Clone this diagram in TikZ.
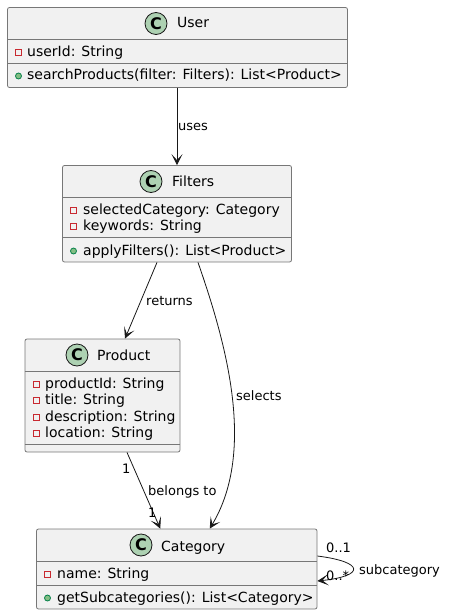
\documentclass[tikz,border=0pt]{standalone}
\usepackage{fontspec}
\setmainfont{DejaVu Sans}
\usetikzlibrary{arrows.meta,calc}
\definecolor{Ink}{HTML}{181818}
\definecolor{Pale}{HTML}{F1F1F1}
\definecolor{Rule}{HTML}{777777}
\definecolor{Spot}{HTML}{ADD1B2}
\definecolor{Priv}{HTML}{C82930}
\definecolor{PrivFill}{HTML}{F1F1F1}
\definecolor{Pub}{HTML}{038048}
\definecolor{PubFill}{HTML}{84BE84}
\tikzset{box/.style={draw=Rule,fill=Pale,rounded corners=2pt,line width=.8pt,inner sep=0pt},sep/.style={draw=Rule,line width=.8pt},flow/.style={-{Stealth[length=11pt,width=11pt,inset=6pt]},line width=.8pt,draw=Ink},lab/.style={font=\fontsize{13}{13}\selectfont,text=black,anchor=base west,inner sep=0pt},txt/.style={font=\fontsize{14}{14}\selectfont,text=black,anchor=base west,inner sep=0pt},spot/.style={circle,draw=Ink,fill=Spot,line width=.8pt,minimum size=22pt,inner sep=0pt,font=\fontsize{16}{16}\selectfont\bfseries,text=black},priv/.style={rectangle,draw=Priv,fill=PrivFill,line width=.8pt,minimum size=6pt,inner sep=0pt},pub/.style={circle,draw=Pub,fill=PubFill,line width=.8pt,minimum size=6pt,inner sep=0pt}}
\begin{document}
\begin{tikzpicture}[x=1pt,y=-1pt]
\useasboundingbox (0,0) rectangle (451,615);
% classes
\node[box,minimum width=340pt,minimum height=80pt] (user) at (177.5,47.5) {};
\node[box,minimum width=229pt,minimum height=96.5pt] (filters) at (177,213.75) {};
\node[box,minimum width=155pt,minimum height=113pt] (product) at (102.5,395.5) {};
\node[box,minimum width=280.5pt,minimum height=80pt] (category) at (176.75,569) {};
% compartments
\draw[sep] (user.west |- 0,39.5)--(user.east |- 0,39.5);
\draw[sep] (user.west |- 0,63.5)--(user.east |- 0,63.5);
\draw[sep] (filters.west |- 0,197.5)--(filters.east |- 0,197.5);
\draw[sep] (filters.west |- 0,237.5)--(filters.east |- 0,237.5);
\draw[sep] (product.west |- 0,371)--(product.east |- 0,371);
\draw[sep] (product.west |- 0,444)--(product.east |- 0,444);
\draw[sep] (category.west |- 0,561)--(category.east |- 0,561);
\draw[sep] (category.west |- 0,585)--(category.east |- 0,585);
% User
\node[spot] (userc) at (156,23.5) {C};
\node[txt] (usert) at (177,28) {User};
\node[priv] (useri) at (18.5,52.5) {};
\node[txt] (userm) at (27,57) {userId: String};
\node[pub] (userj) at (18.5,76) {};
\node[txt] (usern) at (27,80) {searchProducts(filter: Filters): List<Product>};
% Filters
\node[spot] (filtersc) at (151,181.5) {C};
\node[txt] (filterst) at (172,186) {Filters};
\node[priv] (filtersi) at (73.5,210) {};
\node[txt] (filtersm) at (83,214) {selectedCategory: Category};
\node[priv] (filtersj) at (73.5,226) {};
\node[txt] (filtersn) at (83,230) {keywords: String};
\node[pub] (filtersk) at (73.5,251) {};
\node[txt] (filterso) at (83,255) {applyFilters(): List<Product>};
% Product
\node[spot] (productc) at (77,355) {C};
\node[txt] (productt) at (97,360) {Product};
\node[priv] (producti) at (36,384) {};
\node[txt] (productm) at (45,388) {productId: String};
\node[priv] (productj) at (36,400) {};
\node[txt] (productn) at (45,404) {title: String};
\node[priv] (productk) at (36,417) {};
\node[txt] (producto) at (45,421) {description: String};
\node[priv] (productl) at (36,433) {};
\node[txt] (productp) at (45,437) {location: String};
% Category
\node[spot] (categoryc) at (141,545) {C};
\node[txt] (categoryt) at (161,551) {Category};
\node[priv] (categoryi) at (47.5,574.5) {};
\node[txt] (categorym) at (57,578) {name: String};
\node[pub] (categoryj) at (47.5,598) {};
\node[txt] (categoryn) at (57,602) {getSubcategories(): List<Category>};
% connectors
\draw[flow] ($(user.south)+(-.5,0)$)--(filters.north);
\draw[flow] ($(filters.south)+(-20,0)$)--($(product.north)+(22.5,0)$);
\draw[flow] ($(filters.south)+(21,0)$) .. controls (225,340) and (257,450) .. ($(category.north)+(33,0)$);
\draw[flow] ($(product.south)+(24.5,0)$)--($(category.north)+(-16.5,0)$);
\draw[flow] ($(category.east)+(0,-13)$) .. controls (365,562) and (365,576) .. ($(category.east)+(0,12)$);
% labels
\node[lab] (uses) at (178,131) {uses};
\node[lab] (returns) at (146,305) {returns};
\node[lab] (selects) at (236,400) {selects};
\node[lab] (belongs) at (148,495) {belongs to};
\node[lab] (one) at (122,473) {1};
\node[lab] (onex) at (148,517) {1};
\node[lab] (zeroone) at (326,552) {0..1};
\node[lab] (zeromany) at (326,580) {0..*};
\node[lab] (subcat) at (359,574) {subcategory};
\end{tikzpicture}
\end{document}
